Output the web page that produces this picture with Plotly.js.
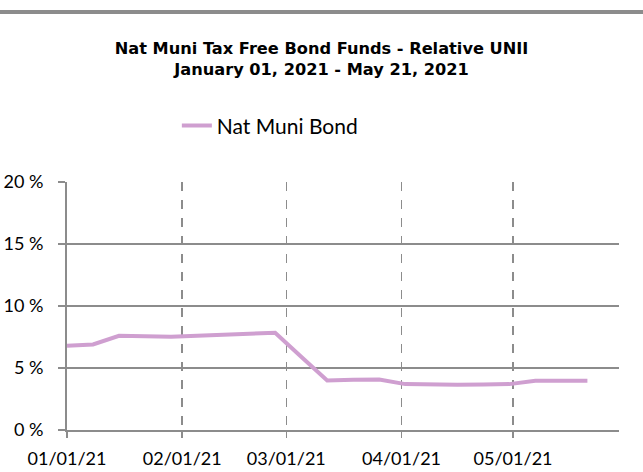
<!DOCTYPE html>
<html>
<head>
<meta charset="utf-8">
<script src="https://cdn.plot.ly/plotly-3.0.1.min.js"></script>
<style>
  html, body { margin: 0; padding: 0; background: #fff; }
  #wrap { position: relative; width: 643px; height: 472px; }
  #bar { position: absolute; left: 0; top: 10px; width: 643px; height: 4px; background: #8c8c8c; z-index: 5; }
  #chart { position: absolute; left: 0; top: 0; width: 643px; height: 472px; }
</style>
</head>
<body>
<div id="wrap"><div id="chart"></div><div id="bar"></div></div>
<script>
// Weekly (Friday) observation dates
const dates = [
  '2021-01-01','2021-01-08','2021-01-15','2021-01-22','2021-01-29',
  '2021-02-05','2021-02-12','2021-02-19','2021-02-26',
  '2021-03-05','2021-03-12','2021-03-19','2021-03-26',
  '2021-04-02','2021-04-09','2021-04-16','2021-04-23','2021-04-30',
  '2021-05-07','2021-05-14','2021-05-21'
];
// Nat Muni Bond relative UNII (%)
const natMuniBond = [
  6.8, 6.9, 7.6, 7.58, 7.52,
  7.6, 7.68, 7.7, 7.85,
  5.9, 4.0, 4.06, 4.08,
  3.7, 3.65, 3.64, 3.66, 3.7,
  3.98, 3.98, 3.98
];
const seriesName = 'Nat Muni Bond';
const xTickVals = ['2021-01-01','2021-02-01','2021-03-01','2021-04-01','2021-05-01'];
const xTickText = ['01/01/21','02/01/21','03/01/21','04/01/21','05/01/21'];
const titleLines = ['Nat Muni Tax Free Bond Funds - Relative UNII', 'January 01, 2021 - May 21, 2021'];

const tickFont = { family: 'Lato, "Open Sans", sans-serif', size: 18, color: '#000' };

const trace = {
  x: dates,
  y: natMuniBond,
  type: 'scatter',
  mode: 'lines',
  name: seriesName,
  line: { color: '#cf9fd0', width: 4 },
  showlegend: true
};

const layout = {
  width: 643,
  height: 472,
  margin: { l: 67, r: 24, t: 182, b: 42 },
  paper_bgcolor: '#fff',
  plot_bgcolor: '#fff',
  title: {
    text: '<b>' + titleLines[0] + '</b><br><b>' + titleLines[1] + '</b>',
    font: { family: '"DejaVu Sans", Verdana, sans-serif', size: 16.2, color: '#000' },
    x: 0.5, xanchor: 'center', xref: 'container',
    y: 1 - 54/472, yanchor: 'top', yref: 'container'
  },
  showlegend: true,
  legend: {
    orientation: 'h',
    x: 0.199, xanchor: 'left',
    y: 1.226, yanchor: 'middle',
    font: { family: 'Lato, "Open Sans", sans-serif', size: 21, color: '#000' },
    bgcolor: 'rgba(0,0,0,0)'
  },
  xaxis: {
    type: 'date',
    range: ['2021-01-01', '2021-05-29 12:00'],
    tickmode: 'array',
    tickvals: xTickVals,
    ticktext: xTickText,
    tickfont: tickFont,
    ticks: 'outside',
    ticklen: 6,
    tickwidth: 1.5,
    tickcolor: '#8c8c8c',
    ticklabelstandoff: 5,
    showgrid: true,
    gridcolor: '#8c8c8c',
    gridwidth: 1.5,
    griddash: 'dash',
    showline: true,
    linecolor: '#8c8c8c',
    linewidth: 2,
    zeroline: false,
    fixedrange: true
  },
  yaxis: {
    range: [0, 20],
    tickmode: 'linear',
    tick0: 0,
    dtick: 5,
    ticksuffix: ' %',
    tickfont: tickFont,
    ticks: 'outside',
    ticklen: 7,
    tickwidth: 1.5,
    tickcolor: '#8c8c8c',
    ticklabelstandoff: 11,
    showgrid: true,
    gridcolor: '#8c8c8c',
    gridwidth: 2,
    showline: true,
    linecolor: '#8c8c8c',
    linewidth: 2,
    zeroline: false,
    fixedrange: true
  }
};

Plotly.newPlot('chart', [trace], layout, { displayModeBar: false, staticPlot: true });
</script>
</body>
</html>
